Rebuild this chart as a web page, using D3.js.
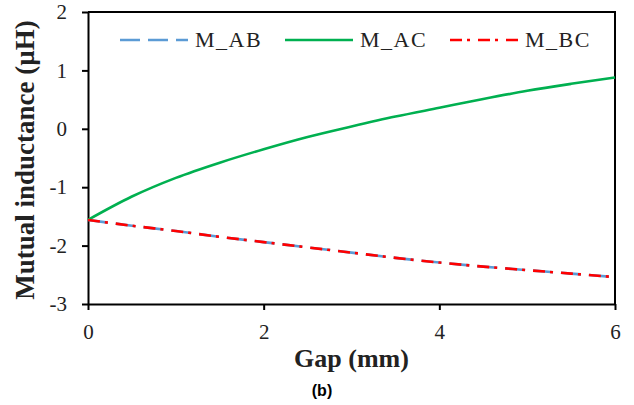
<!DOCTYPE html>
<html>
<head>
<meta charset="utf-8">
<script src="https://cdn.jsdelivr.net/npm/d3@7"></script>
<style>
  body { margin: 0; background: #fff; }
  svg { display: block; }
  .tick text { font-family: "Liberation Serif", "Times New Roman", serif; font-size: 21px; fill: #222; }
</style>
</head>
<body>
<div id="graph"></div>
<script>
// gap values (mm)
const gap = [0, 0.5, 1, 1.5, 2, 2.5, 3, 3.5, 4, 4.5, 5, 5.5, 6];
// mutual inductance (uH)
const mAB = [-1.56, -1.66, -1.75, -1.85, -1.94, -2.03, -2.12, -2.21, -2.29, -2.36, -2.42, -2.48, -2.54];
const mAC = [-1.56, -1.16, -0.84, -0.58, -0.35, -0.14, 0.04, 0.21, 0.36, 0.51, 0.65, 0.77, 0.88];
const mBC = [-1.56, -1.66, -1.75, -1.85, -1.94, -2.03, -2.12, -2.21, -2.29, -2.36, -2.42, -2.48, -2.54];

const seriesNames = ["M_AB", "M_AC", "M_BC"];
const xTicks = [0, 2, 4, 6];
const yTicks = [-3, -2, -1, 0, 1, 2];

const width = 634, height = 405;
const plotLeft = 88, plotRight = 615, plotTop = 12, plotBottom = 304;

const svg = d3.select("#graph").append("svg")
    .attr("width", width)
    .attr("height", height);

const x = d3.scaleLinear().domain([0, 6]).range([plotLeft, plotRight]);
const y = d3.scaleLinear().domain([-3, 2]).range([plotBottom, plotTop]);

const styles = [
    {color: "#5b9bd5", dash: "20 8"},
    {color: "#00b050", dash: null},
    {color: "#ff0000", dash: "12 5 3 8"}
];
const values = [mAB, mAC, mBC];

// frame: top and right
svg.append("path")
    .attr("d", `M${plotLeft},${plotTop}H${plotRight}V${plotBottom}`)
    .attr("fill", "none")
    .attr("stroke", "#000")
    .attr("stroke-width", 2);

const xAxis = svg.append("g")
    .attr("transform", `translate(0,${plotBottom})`)
    .call(d3.axisBottom(x).tickValues(xTicks).tickSize(6).tickSizeOuter(0)
        .tickPadding(14).tickFormat(d => String(d)));

const yAxis = svg.append("g")
    .attr("transform", `translate(${plotLeft},0)`)
    .call(d3.axisLeft(y).tickValues(yTicks).tickSize(6).tickSizeOuter(0)
        .tickPadding(15).tickFormat(d => String(d)));

[xAxis, yAxis].forEach(a => {
    a.select(".domain").attr("stroke", "#000").attr("stroke-width", 2);
    a.selectAll(".tick line").attr("stroke", "#000").attr("stroke-width", 2);
});

const line = d3.line()
    .x((d, i) => x(gap[i]))
    .y(d => y(d))
    .curve(d3.curveMonotoneX);

values.forEach((v, i) => {
    svg.append("path")
        .datum(v)
        .attr("fill", "none")
        .attr("stroke", styles[i].color)
        .attr("stroke-width", 2.6)
        .attr("stroke-dasharray", styles[i].dash)
        .attr("d", line);
});

// legend
const legendX = [120, 285, 450];
seriesNames.forEach((name, i) => {
    const g = svg.append("g").attr("transform", `translate(${legendX[i]},40)`);
    g.append("line")
        .attr("x1", 0).attr("x2", 68)
        .attr("stroke", styles[i].color)
        .attr("stroke-width", 2.6)
        .attr("stroke-dasharray", styles[i].dash);
    g.append("text")
        .attr("x", 75).attr("y", 7)
        .style("font-family", "'Liberation Serif', 'Times New Roman', serif")
        .style("font-size", "22px")
        .style("letter-spacing", "1.5px")
        .attr("fill", "#222")
        .text(name);
});

// axis titles
svg.append("text")
    .attr("x", (plotLeft + plotRight) / 2)
    .attr("y", 367)
    .attr("text-anchor", "middle")
    .style("font-family", "'Liberation Serif', 'Times New Roman', serif")
    .style("font-size", "26px")
    .style("font-weight", "bold")
    .attr("fill", "#222")
    .text("Gap (mm)");

svg.append("text")
    .attr("transform", `translate(34,${(22 + 298) / 2}) rotate(-90)`)
    .attr("text-anchor", "middle")
    .style("font-family", "'Liberation Serif', 'Times New Roman', serif")
    .style("font-size", "27px")
    .style("font-weight", "bold")
    .attr("fill", "#222")
    .text("Mutual inductance (\u00b5H)");

svg.append("text")
    .attr("x", 322)
    .attr("y", 396)
    .attr("text-anchor", "middle")
    .style("font-family", "'Liberation Sans', Arial, sans-serif")
    .style("font-size", "16px")
    .style("font-weight", "bold")
    .attr("fill", "#000")
    .text("(b)");
</script>
</body>
</html>
